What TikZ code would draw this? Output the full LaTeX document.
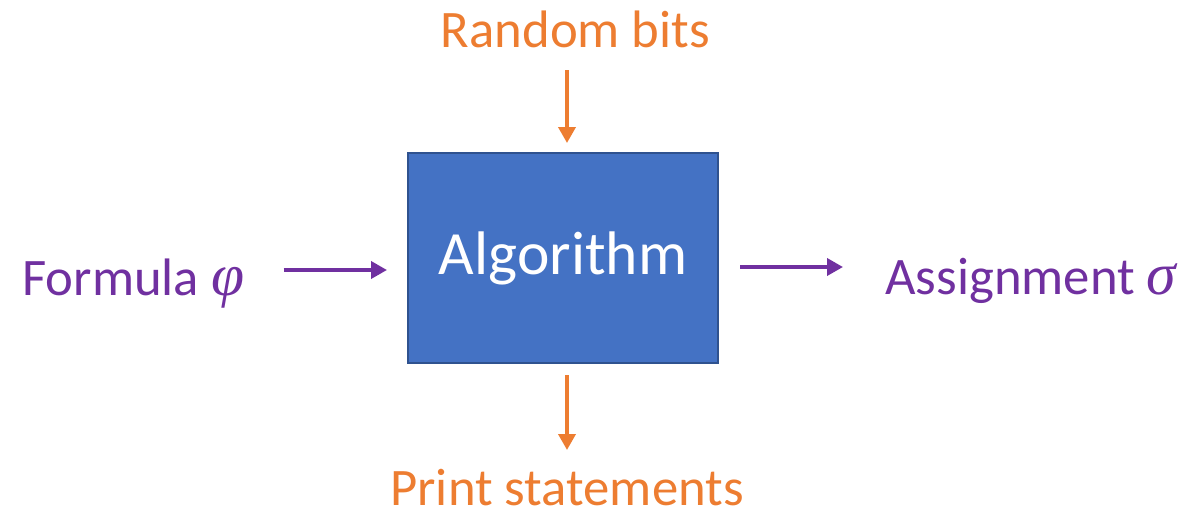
\documentclass[tikz,border=0pt]{standalone}
\usepackage{fontspec}
\setmainfont{Carlito}
\newfontfamily\greekfont{Liberation Serif}
\usetikzlibrary{arrows.meta}
\definecolor{boxblue}{HTML}{4472C4}
\definecolor{boxedge}{HTML}{2F528F}
\definecolor{bitorange}{HTML}{ED7D31}
\definecolor{iopurple}{HTML}{7030A0}
\tikzset{>={Triangle[length=0.32cm,width=0.34cm]}}
\tikzset{flow/.style={->,line width=2.1pt}}
\newcommand{\grk}[1]{{\greekfont\itshape\fontsize{34}{40}\selectfont #1}}
\begin{document}
\begin{tikzpicture}
    \useasboundingbox (0,0) rectangle (23.82,-10.36);
    \node (algo) at (11.26,-5.16) [draw=boxedge, line width=1.2pt, fill=boxblue, minimum width=6.2cm, minimum height=4.2cm, outer sep=0pt, text=white, font=\fontsize{35}{42}\selectfont] {Algorithm};
    \node (random) at (11.51,-0.94) [anchor=base, inner sep=0pt, color=bitorange, font=\fontsize{30}{36}\selectfont] {Random bits};
    \node (print) at (11.34,-10.1) [anchor=base, inner sep=0pt, color=bitorange, font=\fontsize{30}{36}\selectfont] {Print statements};
    \node (formula) at (0.44,-5.90) [anchor=base west, inner sep=0pt, color=iopurple, font=\fontsize{30}{36}\selectfont] {Formula \grk{φ}};
    \node (assign) at (17.70,-5.88) [anchor=base west, inner sep=0pt, color=iopurple, font=\fontsize{30}{36}\selectfont] {Assignment \grk{σ}};
    % arrow heights
    \coordinate (lin) at ([yshift=0.5cm]formula.base east);
    \coordinate (rout) at ([yshift=0.54cm]assign.base west);
    \draw[flow, color=bitorange, shorten <=0.46cm, shorten >=0.2cm] ([xshift=-0.17cm]random.base) -- ([xshift=0.08cm]algo.north);
    \draw[flow, color=bitorange, shorten <=0.24cm, shorten >=1.1cm] ([xshift=0.08cm]algo.south) -- (print.base);
    \draw[flow, color=iopurple, shorten <=0.78cm, shorten >=0.42cm] (lin) -- (lin -| algo.west);
    \draw[flow, color=iopurple, shorten <=0.44cm, shorten >=0.84cm] (rout -| algo.east) -- (rout);
\end{tikzpicture}
\end{document}
